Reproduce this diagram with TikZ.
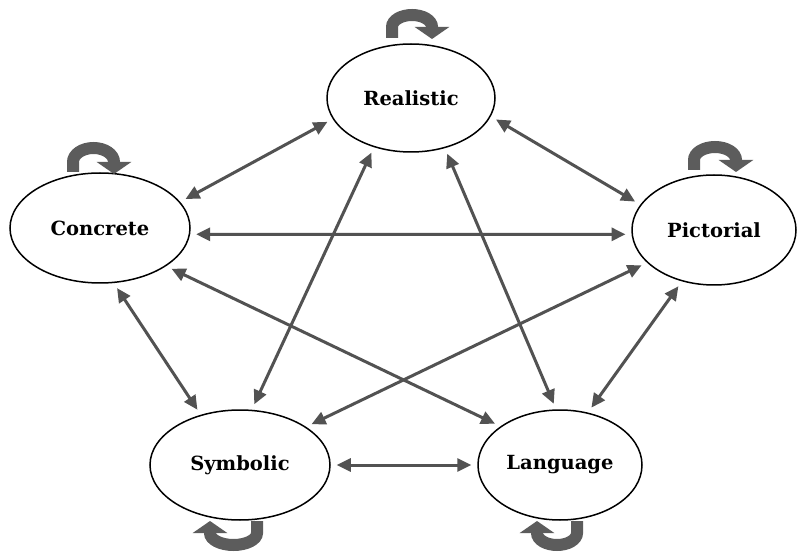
\documentclass[tikz,border=0pt]{standalone}
\usepackage{fontspec}
\setmainfont{DejaVu Serif}
\usetikzlibrary{arrows.meta,shapes.geometric}
\definecolor{linegray}{HTML}{525252}
\definecolor{loopgray}{HTML}{5C5C5C}
\begin{document}
\begin{tikzpicture}[x=1pt,y=-1pt,
  oval/.style={ellipse,draw=black,line width=1.5pt,inner sep=0pt,fill=white,
    font=\fontsize{19.5}{22}\selectfont\bfseries},
  link/.style={draw=linegray,line width=3pt,
    {Triangle[length=14pt,width=13pt]}-{Triangle[length=14pt,width=13pt]},
    shorten <=6pt,shorten >=6pt},
  selfloop/.style={draw=loopgray,line width=12pt,-{Triangle[length=12pt,width=34pt]}}]
\useasboundingbox (0,0) rectangle (798,553);
\fill[white] (0,0) rectangle (798,553);

\node[oval,minimum width=168pt,minimum height=108pt] (R) at (411,98) {Realistic};
\node[oval,minimum width=180pt,minimum height=110pt] (C) at (100,228) {Concrete};
\node[oval,minimum width=164pt,minimum height=110pt] (P) at (714,230) {Pictorial};
\node[oval,minimum width=180pt,minimum height=110pt] (S) at (240,465) {Symbolic};
\node[oval,minimum width=164pt,minimum height=110pt] (L) at (560,465) {Language};

\draw[link] (R.195) -- (C.18);
\draw[link] (R.347) -- (P.161);
\draw[link] (C.356) -- (P.183);
\draw[link] (C.284) -- (S.128);
\draw[link] (P.238) -- (L.62);
\draw[link] (S.0) -- (L.180);
\draw[link] (C.330) -- (L.147);
\draw[link] (P.206) -- (S.30);
\draw[link] (R.233) -- (S.78);
\draw[link] (R.304) -- (L.94);

% self loops
\draw[selfloop] (392,38) -- (392,27) arc[start angle=180,end angle=360,x radius=20,y radius=12] -- ++(0,12);
\draw[selfloop] (73,172) -- (73,162) arc[start angle=180,end angle=360,x radius=20.5,y radius=14] -- ++(0,12);
\draw[selfloop] (694,170) -- (694,160) arc[start angle=180,end angle=360,x radius=21,y radius=13] -- ++(0,12);
\draw[selfloop] (257,521) -- (257,533) arc[start angle=0,end angle=180,x radius=23.5,y radius=12] -- ++(0,-12);
\draw[selfloop] (577,521) -- (577,533) arc[start angle=0,end angle=180,x radius=20,y radius=12] -- ++(0,-12);
\end{tikzpicture}
\end{document}
